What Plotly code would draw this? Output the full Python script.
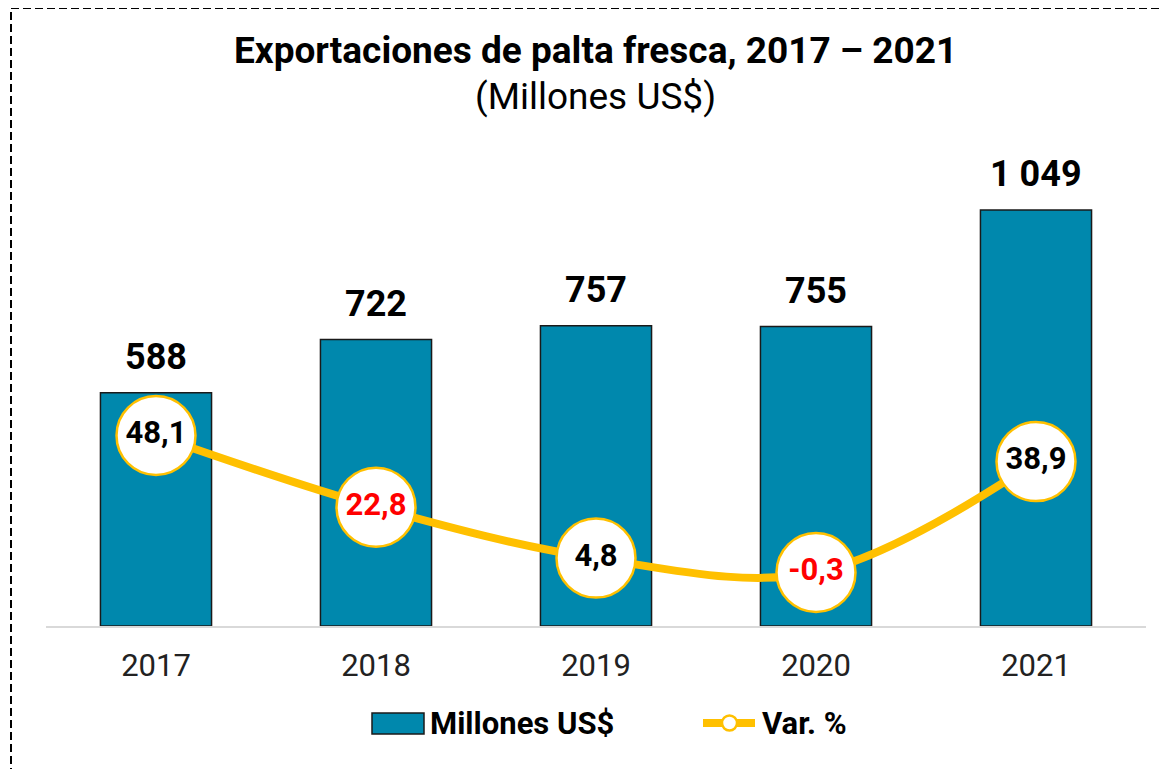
import plotly.graph_objects as go

years = ["2017", "2018", "2019", "2020", "2021"]
exports = [588, 722, 757, 755, 1049]
var_pct = [48.1, 22.8, 4.8, -0.3, 38.9]
var_colors = ["#000000", "#FF0000", "#000000", "#FF0000", "#000000"]

FONT = "Roboto"
BAR_COLOR = "#0088AD"
LINE_COLOR = "#FFC000"
export_labels = [f"{v:,}".replace(",", " ") for v in exports]
var_labels = [f"{v:.1f}".replace(".", ",") for v in var_pct]

# the page body adds an 8px offset; work in page pixels and convert
OFF = 8
W, H = 1168 - OFF, 769 - OFF
L, R, T, B = 46 - OFF, 1146 - OFF, 150 - OFF, 626 - OFF
def px(x):
    return (x - OFF - L) / (R - L)
def py(y):
    return (B - (y - OFF)) / (B - T)

fig = go.Figure()
fig.add_trace(go.Bar(
    x=years, y=exports, name="Millones US$",
    marker=dict(color=BAR_COLOR, line=dict(color="#1a1a1a", width=1.5)),
    width=0.505,
))
fig.add_trace(go.Scatter(
    x=years, y=var_pct, name="Var. %", yaxis="y2",
    mode="lines+markers+text",
    line=dict(color=LINE_COLOR, width=8, shape="spline"),
    marker=dict(size=79, color="#FFFFFF", line=dict(color=LINE_COLOR, width=2.5)),
    text=var_labels, textposition="middle center",
    textfont=dict(family=FONT, size=31, color=var_colors, weight="bold"),
    cliponaxis=False,
))

annotations = [
    dict(text="<b>Exportaciones de palta fresca, 2017 – 2021</b>", x=px(595), y=py(50),
         xref="paper", yref="paper", showarrow=False, yanchor="middle",
         font=dict(family=FONT, size=37, color="#000000")),
    dict(text="(Millones US$)", x=px(595), y=py(97), xref="paper", yref="paper",
         showarrow=False, yanchor="middle",
         font=dict(family=FONT, size=37, color="#000000")),
    dict(text="<b>Millones US$</b>", x=px(428), y=py(723), xref="paper", yref="paper",
         xanchor="left", yanchor="middle", showarrow=False,
         font=dict(family=FONT, size=31, color="#000000")),
    dict(text="<b>Var. %</b>", x=px(760), y=py(723), xref="paper", yref="paper",
         xanchor="left", yanchor="middle", showarrow=False,
         font=dict(family=FONT, size=31, color="#000000")),
]
# value labels above the bars, placed at the data values (category index on x)
for i, (v, lab) in enumerate(zip(exports, export_labels)):
    annotations.append(dict(text=f"<b>{lab}</b>", x=i, y=v, xref="x", yref="y",
                            showarrow=False, yanchor="middle", yshift=36,
                            font=dict(family=FONT, size=36, color="#000000")))

fig.update_layout(
    width=W, height=H,
    margin=dict(l=L, r=W - R, t=T, b=H - B, autoexpand=False),
    paper_bgcolor="white", plot_bgcolor="white",
    font=dict(family=FONT, color="#000000"),
    showlegend=False,
    xaxis=dict(type="category", categoryorder="array", categoryarray=years,
               range=[-0.5, len(years) - 0.5],
               showline=True, linecolor="#d9d9d9", linewidth=2, ticks="",
               ticklabelstandoff=11,
               tickfont=dict(family=FONT, size=31, color="#222222"), showgrid=False),
    yaxis=dict(range=[0, 1200], visible=False, showgrid=False),
    yaxis2=dict(range=[-19.2, 149], overlaying="y", visible=False, showgrid=False),
    annotations=annotations,
    shapes=[
        dict(type="rect", xref="paper", yref="paper",
             x0=px(11), x1=px(1185), y0=py(800), y1=py(8),
             line=dict(color="#000000", width=2, dash="8px,4px"), layer="below"),
        # legend symbols
        dict(type="rect", xref="paper", yref="paper",
             x0=px(372), x1=px(424), y0=py(734), y1=py(713),
             fillcolor=BAR_COLOR, line=dict(color="#1a1a1a", width=1.5)),
        dict(type="line", xref="paper", yref="paper",
             x0=px(703), x1=px(755), y0=py(723), y1=py(723),
             line=dict(color=LINE_COLOR, width=8)),
        dict(type="circle", xref="paper", yref="paper",
             x0=px(722), x1=px(737), y0=py(730.5), y1=py(715.5),
             fillcolor="#FFFFFF", line=dict(color=LINE_COLOR, width=2.5)),
    ],
)

fig.write_html("out.html")
